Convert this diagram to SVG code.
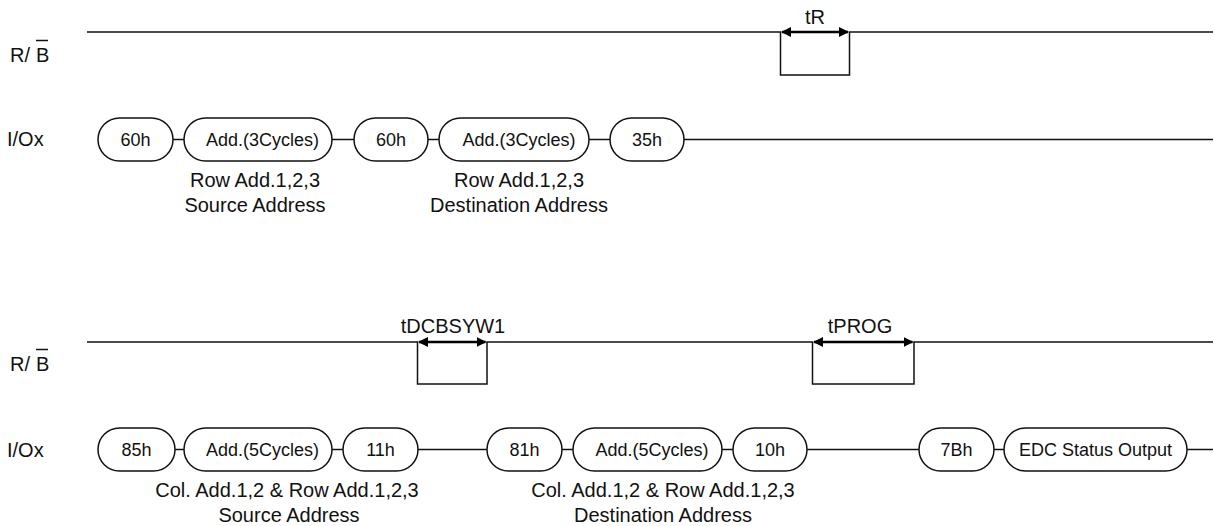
<svg xmlns="http://www.w3.org/2000/svg" width="1214" height="526" viewBox="0 0 1214 526">
<style>
  .ln{fill:none;stroke:#111;stroke-width:1.5}
  .pill{fill:#fff;stroke:#111;stroke-width:1.5}
  .pt{font-family:"Liberation Sans",Arial,sans-serif;font-size:18px;fill:#111;text-anchor:middle}
  .lb{font-family:"Liberation Sans",Arial,sans-serif;font-size:20px;fill:#111}
  .c{text-anchor:middle}
  .arr{fill:none;stroke:#000;stroke-width:2.5}
</style>
<defs>
  <marker id="ah" viewBox="0 0 10 10" refX="9" refY="5" markerWidth="4" markerHeight="4" orient="auto-start-reverse" markerUnits="strokeWidth">
    <path d="M0,0 L10,5 L0,10 z" fill="#000"/>
  </marker>
</defs>
<rect width="1214" height="526" fill="#fff"/>

<!-- signal labels -->
<g id="labels">
  <text class="lb" x="10" y="62">R/</text>
  <text class="lb" x="36" y="62">B</text>
  <line class="ln" x1="36" y1="40.5" x2="48" y2="40.5"/>
  <text class="lb" x="7" y="146">I/Ox</text>
  <text class="lb" x="10" y="371">R/</text>
  <text class="lb" x="36" y="371">B</text>
  <line class="ln" x1="36" y1="349.5" x2="48" y2="349.5"/>
  <text class="lb" x="7" y="457">I/Ox</text>
</g>

<g id="connectors">
  <!-- top R/B -->
  <polyline class="ln" points="87,32 780.5,32 780.5,75 849.5,75 849.5,32 1213,32"/>
  <line class="arr" x1="782" y1="32" x2="848" y2="32" marker-start="url(#ah)" marker-end="url(#ah)"/>
  <!-- top I/O -->
  <line class="ln" x1="173" y1="139.5" x2="184" y2="139.5"/>
  <line class="ln" x1="332" y1="139.5" x2="354" y2="139.5"/>
  <line class="ln" x1="428" y1="139.5" x2="439" y2="139.5"/>
  <line class="ln" x1="589" y1="139.5" x2="610" y2="139.5"/>
  <line class="ln" x1="684" y1="139.5" x2="1213" y2="139.5"/>
  <!-- bottom R/B -->
  <polyline class="ln" points="87,342 417.5,342 417.5,384 487,384 487,342 812.5,342 812.5,384 914,384 914,342 1213,342"/>
  <line class="arr" x1="419" y1="342" x2="485.5" y2="342" marker-start="url(#ah)" marker-end="url(#ah)"/>
  <line class="arr" x1="814" y1="342" x2="912.5" y2="342" marker-start="url(#ah)" marker-end="url(#ah)"/>
  <!-- bottom I/O -->
  <line class="ln" x1="175" y1="449.5" x2="184" y2="449.5"/>
  <line class="ln" x1="332" y1="449.5" x2="343" y2="449.5"/>
  <line class="ln" x1="418" y1="449.5" x2="487" y2="449.5"/>
  <line class="ln" x1="562" y1="449.5" x2="573" y2="449.5"/>
  <line class="ln" x1="722" y1="449.5" x2="733" y2="449.5"/>
  <line class="ln" x1="807" y1="449.5" x2="919" y2="449.5"/>
  <line class="ln" x1="994" y1="449.5" x2="1004" y2="449.5"/>
  <line class="ln" x1="1187" y1="449.5" x2="1213" y2="449.5"/>
</g>

<!-- timing labels -->
<text class="lb c" x="815" y="24">tR</text>
<text class="lb c" x="453" y="333">tDCBSYW1</text>
<text class="lb c" x="860" y="333">tPROG</text>

<!-- top row nodes -->
<g id="n_60h_a"><rect class="pill" x="98" y="118" width="75" height="43" rx="21.5"/><text class="pt" x="135.5" y="146">60h</text></g>
<g id="n_add3_a"><rect class="pill" x="184" y="118" width="148" height="43" rx="21.5"/><text class="pt" x="262.5" y="146">Add.(3Cycles)</text></g>
<g id="n_60h_b"><rect class="pill" x="354" y="118" width="74" height="43" rx="21.5"/><text class="pt" x="391" y="146">60h</text></g>
<g id="n_add3_b"><rect class="pill" x="439" y="118" width="150" height="43" rx="21.5"/><text class="pt" x="519" y="146">Add.(3Cycles)</text></g>
<g id="n_35h"><rect class="pill" x="610" y="118" width="74" height="43" rx="21.5"/><text class="pt" x="647" y="146">35h</text></g>

<text class="lb c" x="255" y="187">Row Add.1,2,3</text>
<text class="lb c" x="255" y="212">Source Address</text>
<text class="lb c" x="519" y="187">Row Add.1,2,3</text>
<text class="lb c" x="519" y="212">Destination Address</text>

<!-- bottom row nodes -->
<g id="n_85h"><rect class="pill" x="98" y="428" width="77" height="43" rx="21.5"/><text class="pt" x="136.5" y="456">85h</text></g>
<g id="n_add5_a"><rect class="pill" x="184" y="428" width="148" height="43" rx="21.5"/><text class="pt" x="262.5" y="456">Add.(5Cycles)</text></g>
<g id="n_11h"><rect class="pill" x="343" y="428" width="75" height="43" rx="21.5"/><text class="pt" x="380.5" y="456">11h</text></g>
<g id="n_81h"><rect class="pill" x="487" y="428" width="75" height="43" rx="21.5"/><text class="pt" x="524.5" y="456">81h</text></g>
<g id="n_add5_b"><rect class="pill" x="573" y="428" width="149" height="43" rx="21.5"/><text class="pt" x="652" y="456">Add.(5Cycles)</text></g>
<g id="n_10h"><rect class="pill" x="733" y="428" width="74" height="43" rx="21.5"/><text class="pt" x="770" y="456">10h</text></g>
<g id="n_7bh"><rect class="pill" x="919" y="428" width="75" height="43" rx="21.5"/><text class="pt" x="956.5" y="456">7Bh</text></g>
<g id="n_edc"><rect class="pill" x="1004" y="428" width="183" height="43" rx="21.5"/><text class="pt" x="1095.5" y="456">EDC Status Output</text></g>

<text class="lb c" x="287" y="497">Col. Add.1,2 &amp; Row Add.1,2,3</text>
<text class="lb c" x="289" y="522">Source Address</text>
<text class="lb c" x="663" y="497">Col. Add.1,2 &amp; Row Add.1,2,3</text>
<text class="lb c" x="663" y="522">Destination Address</text>
</svg>
